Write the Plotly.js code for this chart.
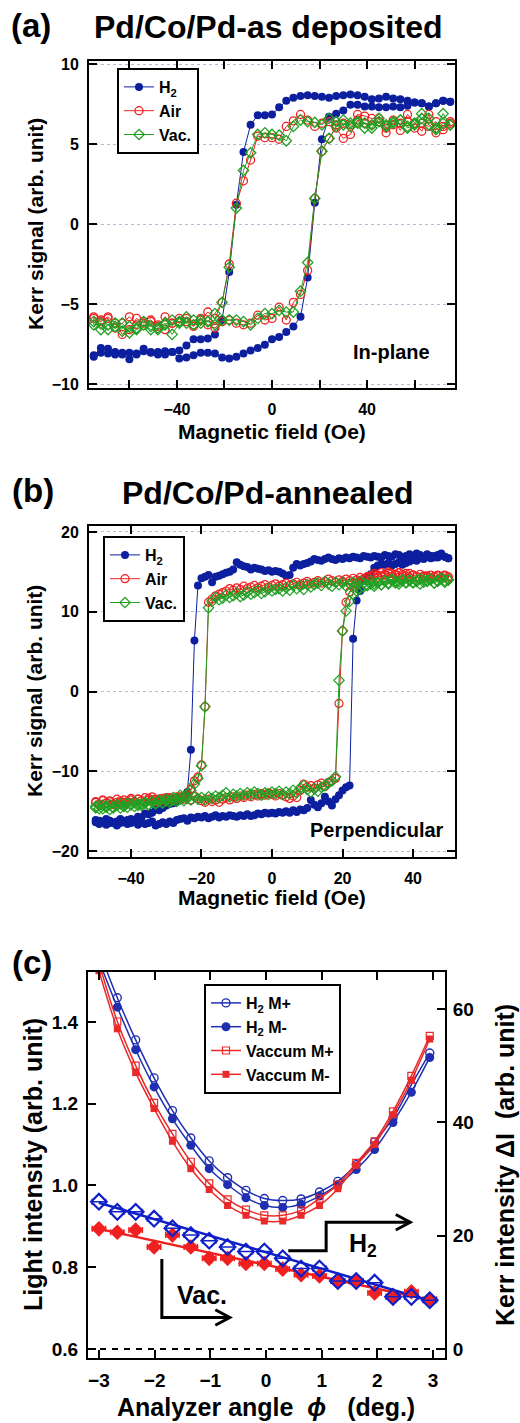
<!DOCTYPE html>
<html>
<head>
<meta charset="utf-8">
<script src="https://cdn.plot.ly/plotly-3.0.1.min.js"></script>
<style>html,body{margin:0;padding:0;background:#fff;}#chart{width:520px;height:1423px;}</style>
</head>
<body>
<div id="chart"></div>
<script>
// ---------------- Panel (a): in-plane loops ----------------
const fieldA_down = [75,72,69,66,63,60,57,54,51,48,45,42,39,36,33,30,27,24,21,18,15,12,9,6,3,0,-3,-6,-9,-12,-15,-18,-21,-24,-27,-30,-33,-36,-39,-42,-45,-48,-51,-54,-57,-60,-63,-66,-69,-72,-75];
const fieldA_up = [-75,-72,-69,-66,-63,-60,-57,-54,-51,-48,-45,-42,-39,-36,-33,-30,-27,-24,-21,-18,-15,-12,-9,-6,-3,0,3,6,9,12,15,18,21,24,27,30,33,36,39,42,45,48,51,54,57,60,63,66,69,72,75];
const h2A_down = [7.65,7.7,7.55,7.35,7.55,7.6,7.7,7.8,7.85,7.95,7.85,7.8,7.95,8.05,8.1,8.05,8.0,7.9,7.95,8.0,8.05,8.0,7.9,7.7,7.3,6.85,6.8,6.8,6.2,4.5,1.2,-3.0,-6.0,-6.9,-7.15,-7.2,-7.2,-7.6,-7.9,-8.0,-7.95,-8.0,-8.05,-7.8,-8.1,-8.05,-8.05,-8.0,-7.8,-7.75,-8.2];
const h2A_up = [-8.3,-8.05,-8.1,-8.15,-8.15,-8.45,-8.15,-7.95,-8.0,-8.15,-8.15,-8.0,-8.4,-8.35,-8.2,-8.05,-8.05,-8.1,-8.35,-8.4,-8.3,-8.1,-7.9,-7.75,-7.55,-7.2,-7.06,-6.75,-6.4,-5.8,-3.35,1.33,5.3,6.7,6.9,7.1,7.45,7.45,7.35,7.35,7.3,7.3,7.35,7.3,7.4,7.6,7.55,7.35,7.55,7.7,7.65];
const airA_down = [6.4,6.1,5.7,6.85,5.8,6.3,6.85,5.85,6.5,5.7,6.6,6.6,6.75,6.85,6.2,6.3,6.2,6.4,6.3,6.1,6.5,6.85,6.45,6.1,5.3,5.4,5.4,5.5,4.0,2.7,1.3,-2.5,-4.9,-5.9,-5.5,-6.0,-6.3,-5.9,-6.1,-6.2,-5.8,-6.4,-6.0,-6.1,-6.3,-5.8,-6.2,-6.5,-5.9,-6.0,-5.8];
const airA_up = [-5.9,-6.1,-5.8,-6.2,-6.9,-6.6,-5.9,-6.2,-6.1,-6.3,-6.6,-6.2,-5.9,-6.1,-6.4,-5.9,-6.3,-6.5,-6.1,-6.0,-6.2,-6.3,-6.2,-5.7,-6.0,-5.9,-5.2,-6.0,-4.9,-4.4,-2.9,1.6,4.55,5.35,6.0,5.35,5.6,6.5,6.3,6.2,6.4,6.0,6.2,6.3,6.4,6.0,6.3,6.1,6.4,5.9,6.3];
const vacA_down = [6.2,6.9,6.0,6.6,6.9,6.3,6.1,6.5,6.4,6.2,6.6,6.0,6.3,6.4,6.1,6.5,6.4,6.6,6.2,6.35,6.4,6.5,6.1,5.2,5.55,5.6,5.7,5.6,4.45,3.35,1.0,-2.7,-4.9,-5.6,-6.1,-6.0,-6.3,-5.8,-6.2,-6.9,-6.2,-6.5,-6.6,-6.3,-6.6,-6.8,-6.2,-6.4,-6.6,-6.2,-6.3];
const vacA_up = [-6.1,-6.6,-6.3,-6.2,-6.7,-6.4,-6.5,-6.1,-6.4,-6.6,-6.3,-6.0,-6.1,-6.2,-6.0,-6.2,-6.1,-6.3,-6.0,-6.0,-6.0,-6.1,-6.3,-5.9,-5.6,-5.6,-5.4,-5.5,-5.5,-4.2,-2.4,1.6,4.55,5.35,6.1,6.2,6.3,6.3,6.0,6.2,6.4,6.1,6.3,6.5,6.0,6.2,6.6,6.2,5.9,6.3,6.2];
const yTicksA = [-10,-5,0,5,10];

// ---------------- Panel (b): perpendicular loops ----------------
const fieldB_down = [50,49,48,47,46,45,44,43,42,41,40,39,38,37,36,35,34,33,32,31,30,29,28,27,26,25,24,23,22,21,20,19,18,17,16,15,14,13,12,11,10,9,8,7,6,5,4,3,2,1,0,-1,-2,-3,-4,-5,-6,-7,-8,-9,-10,-11,-12,-13,-14,-15,-16,-17,-18,-19,-20,-21,-22,-23,-24,-25,-26,-27,-28,-29,-30,-31,-32,-33,-34,-35,-36,-37,-38,-39,-40,-41,-42,-43,-44,-45,-46,-47,-48,-49,-50];
const fieldB_up = [-50,-49,-48,-47,-46,-45,-44,-43,-42,-41,-40,-39,-38,-37,-36,-35,-34,-33,-32,-31,-30,-29,-28,-27,-26,-25,-24,-23,-22,-21,-20,-19,-18,-17,-16,-15,-14,-13,-12,-11,-10,-9,-8,-7,-6,-5,-4,-3,-2,-1,0,1,2,3,4,5,6,7,8,9,10,11,12,13,14,15,16,17,18,19,20,21,22,23,24,25,26,27,28,29,30,31,32,33,34,35,36,37,38,39,40,41,42,43,44,45,46,47,48,49,50];
const h2B_down = [16.7,16.9,17.3,17.1,16.8,17.0,17.2,16.9,17.1,17.3,
  16.9,17.2,17.0,16.8,17.1,17.2,16.9,17.0,17.1,16.8,
  16.9,17.0,16.8,16.9,17.0,16.7,16.8,16.9,16.7,16.8,
  16.6,16.7,16.5,16.6,16.8,16.6,16.4,16.5,16.6,16.3,
  16.1,16.0,15.8,16.0,15.5,14.6,14.5,14.8,15.0,15.1,
  15.0,15.2,15.1,15.3,15.4,15.5,15.3,15.6,15.7,15.9,
  16.2,15.3,15.0,14.9,14.7,14.5,14.4,13.7,14.6,14.4,
  14.2,13.3,6.4,-7.3,-12.6,-13.2,-13.6,-13.8,-14.0,-14.1,
  -14.3,-14.6,-14.9,-14.8,-15.2,-15.4,-15.3,-15.8,-15.7,-16.2,
  -16.0,-16.1,-16.4,-16.0,-16.3,-16.5,-16.2,-16.0,-16.4,-16.2,-16.1];
const h2B_up = [-16.4,-16.6,-16.3,-16.7,-16.5,-16.4,-16.8,-16.5,-16.3,-16.6,
  -16.5,-16.3,-16.7,-16.4,-16.6,-16.5,-16.3,-16.8,-16.6,-16.4,
  -16.6,-16.3,-16.5,-16.1,-16.0,-15.9,-16.2,-15.8,-15.9,-15.7,
  -15.8,-15.6,-15.9,-15.7,-15.5,-15.8,-15.6,-15.7,-15.5,-15.6,
  -15.7,-15.5,-15.6,-15.4,-15.6,-15.5,-15.3,-15.4,-15.2,-15.3,
  -15.2,-15.3,-15.1,-15.2,-15.0,-15.2,-14.9,-15.1,-14.8,-14.9,
  -14.6,-13.6,-14.2,-14.5,-14.0,-13.2,-13.8,-14.3,-13.5,-13.0,
  -12.4,-12.0,-11.8,6.6,11.4,12.6,13.9,14.3,14.7,15.5,
  15.8,16.0,15.9,16.1,15.8,16.0,16.2,15.9,16.1,16.3,
  16.5,16.4,16.7,16.6,16.9,16.7,17.0,16.8,17.1,16.9,16.7];
const airB_down = [14.2,14.5,14.3,14.6,14.4,14.2,14.5,14.3,14.1,14.4,
  14.6,14.3,14.8,14.5,14.9,14.7,14.4,14.8,14.6,14.5,
  14.3,14.6,14.2,14.4,14.1,14.3,14.0,14.2,13.9,14.1,
  13.8,14.0,13.7,13.9,14.1,13.8,13.6,13.9,13.7,13.5,
  13.8,13.6,13.4,13.7,13.5,13.3,13.6,13.4,13.2,13.5,
  13.3,13.1,13.4,13.2,13.0,13.3,13.1,12.9,13.2,12.8,
  13.0,12.7,12.9,12.6,12.4,12.2,12.0,11.6,11.2,-1.9,
  -9.2,-10.7,-11.2,-12.2,-12.9,-13.1,-13.4,-13.2,-13.6,-13.5,
  -13.3,-13.7,-13.5,-13.8,-13.6,-13.4,-13.9,-13.7,-13.5,-13.8,
  -13.6,-13.9,-14.1,-13.7,-13.9,-14.2,-13.8,-14.0,-13.7,-14.1,-13.9];
const airB_up = [-13.8,-14.2,-13.6,-14.0,-13.7,-14.1,-13.5,-13.9,-13.6,-13.8,
  -13.4,-13.9,-13.5,-13.7,-13.3,-13.6,-13.2,-13.5,-13.8,-13.4,
  -13.6,-13.3,-13.7,-13.4,-13.2,-13.5,-13.3,-13.6,-13.1,-13.4,
  -13.7,-13.9,-13.5,-13.8,-13.6,-13.9,-13.5,-13.3,-13.6,-13.2,
  -13.4,-13.1,-13.3,-13.0,-13.2,-12.9,-13.1,-12.8,-13.0,-12.7,
  -12.9,-13.1,-12.8,-13.0,-13.2,-13.4,-13.1,-13.3,-12.4,-11.6,
  -12.0,-11.8,-12.1,-11.7,-11.5,-11.9,-11.4,-11.2,-10.9,-1.5,
  7.6,11.2,12.5,13.1,13.6,13.9,14.1,14.3,14.5,14.8,
  14.6,14.9,14.7,15.0,14.8,14.6,14.9,14.7,14.5,14.8,
  14.6,14.4,14.7,14.5,14.3,14.6,14.4,14.5,14.2,14.6,14.4];
const vacB_down = [14.0,13.7,14.2,13.9,13.6,14.1,13.8,14.0,13.5,13.9,
  13.7,14.0,13.6,13.9,13.5,13.8,14.1,13.6,13.9,13.4,
  13.7,13.5,13.9,13.3,13.6,13.8,13.4,13.7,13.5,13.2,
  13.6,13.4,13.7,13.2,13.5,13.8,13.3,13.6,13.4,13.1,
  13.4,12.8,13.2,12.9,13.3,12.7,13.0,12.6,12.9,12.8,
  12.6,12.9,12.5,12.3,12.7,12.4,12.2,12.5,12.1,11.9,
  12.3,12.0,11.8,12.1,11.7,11.5,11.8,11.3,10.5,-1.9,
  -9.3,-10.9,-11.6,-12.4,-12.8,-13.2,-13.0,-13.5,-13.3,-13.7,
  -13.5,-13.9,-13.6,-14.0,-13.8,-14.2,-13.9,-14.1,-14.3,-13.9,
  -14.2,-14.0,-14.4,-14.1,-14.3,-14.6,-14.2,-14.5,-14.3,-14.7,-14.4];
const vacB_up = [-14.6,-14.3,-14.7,-14.4,-14.8,-14.5,-14.2,-14.6,-14.3,-14.5,
  -14.2,-14.4,-14.1,-14.3,-14.0,-14.2,-13.9,-14.1,-13.8,-14.0,
  -13.7,-13.9,-13.6,-13.8,-13.5,-13.7,-13.4,-13.6,-13.2,-13.5,
  -13.3,-13.6,-13.2,-13.4,-13.1,-13.3,-13.0,-12.7,-13.2,-12.9,
  -13.1,-12.8,-13.0,-12.7,-12.9,-12.6,-12.8,-13.0,-12.7,-12.9,
  -12.6,-12.8,-12.5,-12.9,-12.6,-12.8,-12.4,-12.7,-12.1,-11.8,
  -12.3,-12.6,-12.2,-12.5,-12.0,-11.8,-11.5,-11.2,-10.7,1.4,
  7.6,10.1,11.3,12.2,12.6,12.9,13.1,13.3,13.5,13.2,
  13.6,13.4,13.8,13.5,13.9,13.6,13.8,14.0,13.7,13.9,
  13.6,13.8,14.1,13.7,13.9,14.0,13.6,13.8,14.1,13.9,14.0];
const yTicksB = [-20,-10,0,10,20];
const xTicksB = [-40,-20,0,20,40];

// ---------------- Panel (c): analyzer-angle scan ----------------
const angle = [-3,-2.67,-2.34,-2.01,-1.68,-1.35,-1.02,-0.69,-0.36,-0.03,0.3,0.63,0.96,1.29,1.62,1.95,2.28,2.61,2.94];
const h2MPlus  = [1.575,1.459,1.356,1.263,1.183,1.116,1.060,1.019,0.988,0.968,0.963,0.967,0.984,1.010,1.051,1.106,1.165,1.246,1.324];
const h2MMinus = [1.550,1.436,1.332,1.241,1.163,1.098,1.041,1.002,0.970,0.951,0.946,0.954,0.974,1.002,1.039,1.088,1.154,1.228,1.313];
const vacMPlus = [1.545,1.401,1.293,1.202,1.126,1.058,1.005,0.966,0.941,0.927,0.927,0.939,0.968,1.002,1.055,1.108,1.181,1.268,1.366];
const vacMMinus= [1.525,1.383,1.276,1.188,1.108,1.041,0.990,0.951,0.927,0.913,0.913,0.927,0.951,0.992,1.049,1.100,1.173,1.257,1.358];
const kerrH2  = [26.0,24.2,24.2,23.0,21.3,20.1,19.1,18.0,17.2,17.2,16.0,14.2,14.2,12.0,12.0,11.7,9.2,9.2,8.6];
const kerrVac = [21.2,20.6,21.0,18.0,20.1,18.0,16.0,16.0,15.1,15.1,14.1,13.1,12.9,12.0,11.9,9.9,9.2,10.1,8.8];
const kerrErr = 0.12;
const fitAngle = [-3, 3];
const fitH2 = [25.8, 8.35];
const fitVac = [21.2, 8.5];
const xTicksC = [-3,-2,-1,0,1,2,3];
const yTicksC = [0.6,0.8,1.0,1.2,1.4];
const yTicksC2 = [0,20,40,60];

// ---------------- styling ----------------
const FONT = 'Arial, "Liberation Sans", sans-serif';
const BLUE = '#0c1f9e', RED = '#f02020', GREEN = '#23a023';
const CBLUE = '#1f2fb0', CRED = '#ea2a2a';
const W = 520, H = 1423;
const PX = x => x / W, PY = y => 1 - y / H;

function axisBase(extra) {
  return Object.assign({
    showline: true, linecolor: 'black', linewidth: 2, mirror: 'ticks',
    ticks: 'inside', ticklen: 8, tickwidth: 2, tickcolor: 'black',
    showgrid: false, zeroline: false, fixedrange: true,
    tickfont: {family: FONT, size: 16, color: 'black', weight: 'bold'}
  }, extra);
}
const gridStyle = {showgrid: true, gridcolor: 'rgba(150,160,205,0.7)', gridwidth: 1, griddash: 'dot'};

const traces = [];
// Panel a
traces.push({x: fieldA_down.concat(fieldA_up), y: h2A_down.concat(h2A_up), xaxis: 'x', yaxis: 'y', legend: 'legend',
  name: 'H<sub>2</sub>', mode: 'lines+markers', line: {color: BLUE, width: 1},
  marker: {symbol: 'circle', size: 8, color: BLUE}});
traces.push({x: fieldA_down.concat(fieldA_up), y: airA_down.concat(airA_up), xaxis: 'x', yaxis: 'y', legend: 'legend',
  name: 'Air', mode: 'lines+markers', line: {color: RED, width: 1},
  marker: {symbol: 'circle-open', size: 8, color: RED, line: {width: 1.3}}});
traces.push({x: fieldA_down.concat(fieldA_up), y: vacA_down.concat(vacA_up), xaxis: 'x', yaxis: 'y', legend: 'legend',
  name: 'Vac.', mode: 'lines+markers', line: {color: GREEN, width: 1},
  marker: {symbol: 'diamond-open', size: 8, color: GREEN, line: {width: 1.3}}});
// Panel b
traces.push({x: fieldB_down.concat(fieldB_up), y: h2B_down.concat(h2B_up), xaxis: 'x2', yaxis: 'y2', legend: 'legend2',
  name: 'H<sub>2</sub>', mode: 'lines+markers', line: {color: BLUE, width: 1},
  marker: {symbol: 'circle', size: 8, color: BLUE}});
traces.push({x: fieldB_down.concat(fieldB_up), y: airB_down.concat(airB_up), xaxis: 'x2', yaxis: 'y2', legend: 'legend2',
  name: 'Air', mode: 'lines+markers', line: {color: RED, width: 1},
  marker: {symbol: 'circle-open', size: 8, color: RED, line: {width: 1.2}}});
traces.push({x: fieldB_down.concat(fieldB_up), y: vacB_down.concat(vacB_up), xaxis: 'x2', yaxis: 'y2', legend: 'legend2',
  name: 'Vac.', mode: 'lines+markers', line: {color: GREEN, width: 1},
  marker: {symbol: 'diamond-open', size: 8, color: GREEN, line: {width: 1.2}}});
// Panel c
traces.push({x: angle, y: h2MPlus, xaxis: 'x3', yaxis: 'y3', legend: 'legend3', name: 'H<sub>2</sub> M+',
  mode: 'lines+markers', line: {color: CBLUE, width: 1.5, shape: 'spline'},
  marker: {symbol: 'circle-open', size: 8, color: CBLUE, line: {width: 1.4}}});
traces.push({x: angle, y: h2MMinus, xaxis: 'x3', yaxis: 'y3', legend: 'legend3', name: 'H<sub>2</sub> M-',
  mode: 'lines+markers', line: {color: CBLUE, width: 1.5, shape: 'spline'},
  marker: {symbol: 'circle', size: 9, color: CBLUE}});
traces.push({x: angle, y: vacMPlus, xaxis: 'x3', yaxis: 'y3', legend: 'legend3', name: 'Vaccum M+',
  mode: 'lines+markers', line: {color: CRED, width: 1.5, shape: 'spline'},
  marker: {symbol: 'square-open', size: 7, color: CRED, line: {width: 1.2}}});
traces.push({x: angle, y: vacMMinus, xaxis: 'x3', yaxis: 'y3', legend: 'legend3', name: 'Vaccum M-',
  mode: 'lines+markers', line: {color: CRED, width: 1.5, shape: 'spline'},
  marker: {symbol: 'square', size: 7, color: CRED}});
traces.push({x: fitAngle, y: fitVac, xaxis: 'x3', yaxis: 'y4', showlegend: false, mode: 'lines',
  line: {color: RED, width: 2.5}});
traces.push({x: fitAngle, y: fitH2, xaxis: 'x3', yaxis: 'y4', showlegend: false, mode: 'lines',
  line: {color: '#1020c8', width: 2.5}});
traces.push({x: angle, y: kerrVac, xaxis: 'x3', yaxis: 'y4', showlegend: false, mode: 'markers',
  marker: {symbol: 'diamond', size: 12, color: RED},
  error_x: {type: 'constant', value: kerrErr, color: RED, thickness: 1.5, width: 3}});
traces.push({x: angle, y: kerrH2, xaxis: 'x3', yaxis: 'y4', showlegend: false, mode: 'markers',
  marker: {symbol: 'diamond-open', size: 12, color: '#1020c8', line: {width: 2.2}},
  error_x: {type: 'constant', value: kerrErr, color: '#1020c8', thickness: 1.5, width: 3}});

const legendBase = {xanchor: 'left', yanchor: 'top', bgcolor: 'white', bordercolor: 'black', borderwidth: 2,
  font: {family: FONT, size: 16, color: 'black', weight: 'bold'}, itemwidth: 30, tracegroupgap: 0};

function txt(text, x, y, size, extra) {
  return Object.assign({text: text, x: PX(x), y: PY(y), xref: 'paper', yref: 'paper', showarrow: false,
    xanchor: 'center', yanchor: 'middle', font: {family: FONT, size: size, color: 'black', weight: 'bold'}}, extra || {});
}

const layout = {
  width: W, height: H, margin: {l: 0, r: 0, t: 0, b: 0}, autosize: false,
  paper_bgcolor: 'white', plot_bgcolor: 'white', showlegend: true,
  font: {family: FONT, color: 'black'},
  xaxis: axisBase({domain: [PX(89), PX(455)], anchor: 'y', range: [-77, 77], tickmode: 'array',
    tickvals: [-40, 0, 40], ticklabelstandoff: 6,
    minor: {tickmode: 'array', tickvals: [-60, -20, 20, 60], ticks: 'inside', ticklen: 8, tickwidth: 2, tickcolor: 'black', showgrid: false}}),
  yaxis: axisBase(Object.assign({domain: [PY(388), PY(61)], anchor: 'x', range: [-10.25, 10.19], tickmode: 'array',
    tickvals: yTicksA, ticklabelstandoff: 5}, gridStyle)),
  xaxis2: axisBase({domain: [PX(89), PX(455)], anchor: 'y2', range: [-51.9, 51.9], tickmode: 'array',
    tickvals: xTicksB, ticklabelstandoff: 6}),
  yaxis2: axisBase(Object.assign({domain: [PY(857), PY(526)], anchor: 'x2', range: [-20.75, 20.75], tickmode: 'array',
    tickvals: yTicksB, ticklabelstandoff: 5}, gridStyle)),
  xaxis3: axisBase({domain: [PX(88), PX(445)], anchor: 'y3', range: [-3.196, 3.214], tickmode: 'array',
    tickvals: xTicksC, ticklabelstandoff: 4, tickfont: {family: FONT, size: 19, color: 'black', weight: 'bold'}}),
  yaxis3: axisBase({domain: [PY(1358), PY(972)], anchor: 'x3', range: [0.578, 1.522], tickmode: 'array',
    tickvals: yTicksC, tickformat: '.1f', mirror: false, ticklabelstandoff: 4,
    tickfont: {family: FONT, size: 19, color: 'black', weight: 'bold'}}),
  yaxis4: axisBase({anchor: 'x3', overlaying: 'y3', side: 'right', range: [-1.59, 66.53], tickmode: 'array',
    tickvals: yTicksC2, mirror: false, ticklabelstandoff: 2,
    tickfont: {family: FONT, size: 19, color: 'black', weight: 'bold'}}),
  legend: Object.assign({}, legendBase, {x: PX(117), y: PY(68)}),
  legend2: Object.assign({}, legendBase, {x: PX(103), y: PY(536)}),
  legend3: Object.assign({}, legendBase, {x: PX(204), y: PY(984)}),
  shapes: [
    {type: 'line', xref: 'x3 domain', yref: 'y4', x0: 0, x1: 1, y0: 0, y1: 0, line: {color: 'black', width: 2, dash: '6px,6px'}},
    {type: 'path', xref: 'x3', yref: 'y3', path: 'M 0.40,0.840 L 1.08,0.840 L 1.08,0.910 L 2.59,0.910', line: {color: 'black', width: 3}},
    {type: 'path', xref: 'x3', yref: 'y3', path: 'M 2.33,0.929 L 2.59,0.910 L 2.33,0.891', line: {color: 'black', width: 3}},
    {type: 'path', xref: 'x3', yref: 'y3', path: 'M -1.87,0.820 L -1.87,0.677 L -0.65,0.677', line: {color: 'black', width: 3}},
    {type: 'path', xref: 'x3', yref: 'y3', path: 'M -0.91,0.696 L -0.65,0.677 L -0.91,0.658', line: {color: 'black', width: 3}}
  ],
  annotations: [
    txt('(a)', 31, 26, 33),
    txt('Pd/Co/Pd-as deposited', 268, 27, 32),
    txt('(b)', 33, 490, 33),
    txt('Pd/Co/Pd-annealed', 268, 493, 32),
    txt('(c)', 32, 962, 33),
    txt('Kerr signal (arb. unit)', 35, 224, 21, {textangle: -90}),
    txt('Magnetic field (Oe)', 272, 432, 21),
    txt('In-plane', 391, 352, 20),
    txt('Kerr signal (arb. unit)', 35, 691, 21, {textangle: -90}),
    txt('Magnetic field (Oe)', 272, 897, 21),
    txt('Perpendicular', 377, 830, 20),
    txt('Light intensity (arb. unit)', 33, 1165, 25, {textangle: -90}),
    txt('Kerr intensity \u0394I\u00a0 (arb. unit)', 505, 1165, 25, {textangle: -90}),
    txt('Analyzer angle\u00a0 <i>\u03d5</i>\u00a0\u00a0 (deg.)', 266, 1407, 25),
    txt('H<sub>2</sub>', 363, 1245, 25),
    txt('Vac.', 202, 1295, 25)
  ]
};

Plotly.newPlot('chart', traces, layout, {staticPlot: true, displayModeBar: false});
</script>
</body>
</html>
